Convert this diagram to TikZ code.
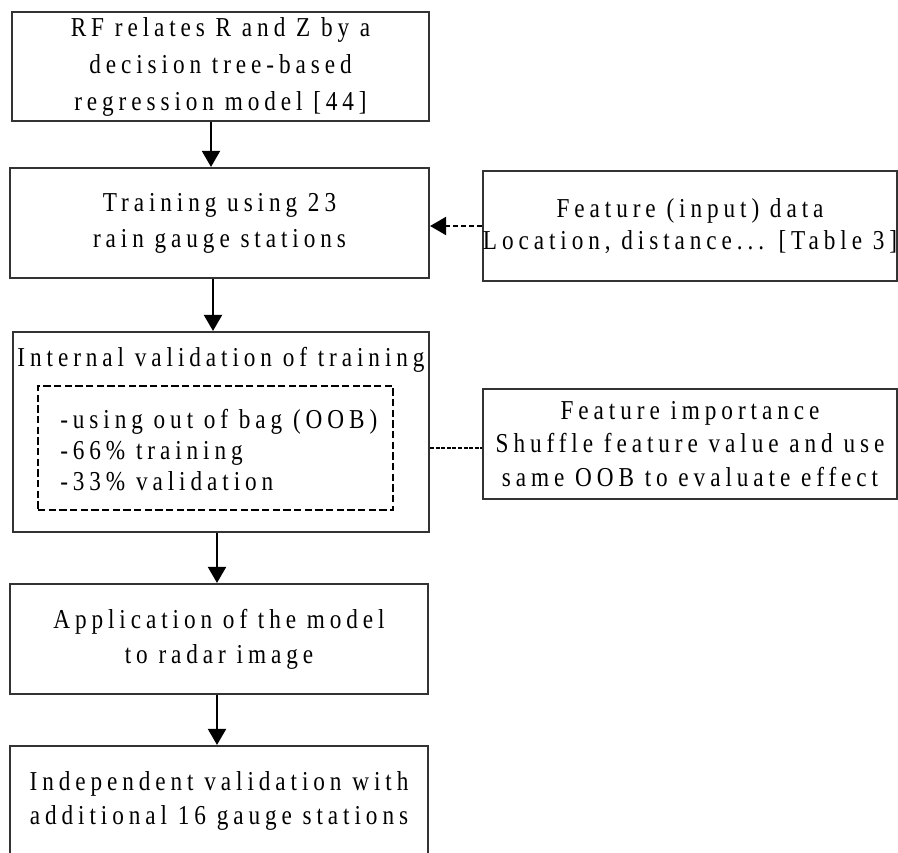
\documentclass[tikz,border=0pt]{standalone}
\usepackage{fontspec}
\setmainfont{Liberation Serif}[FakeStretch=0.85, LetterSpace=18]
\usetikzlibrary{arrows.meta}
\newdimen\upx
\upx=0.75pt
\definecolor{boxc}{HTML}{333333}
\begin{document}
\begin{tikzpicture}[x=0.75pt,y=-0.75pt,
  box/.style={draw=boxc, line width=1.6pt, inner sep=0pt, align=center,
    font=\fontsize{20.5}{27}\selectfont},
  arr/.style={line width=1.5pt, -{Triangle[length=12pt,width=13.5pt]}},
  darr/.style={line width=1.6pt, dash pattern=on 4pt off 2pt, -{Triangle[length=12pt,width=13.5pt]}},
  dotline/.style={line width=2pt, dash pattern=on 3pt off 1.2pt},
  inbox/.style={draw=black, line width=1.2pt, dash pattern=on 5.5pt off 2.5pt, inner sep=0pt},
  plain/.style={inner sep=0pt, font=\fontsize{20.5}{23}\selectfont}]
\useasboundingbox (0,0) rectangle (898,852);

\node[box, minimum width=417\upx, minimum height=109\upx, font=\fontsize{20.5}{27.75}\selectfont] (b1) at (220.5,66.5)
  {RF relates R and Z by a\\decision tree-based\\regression model [44]};
\node[box, minimum width=419\upx, minimum height=110\upx] (b2) at (219.5,223)
  {Training using 23\\rain gauge stations};
\node[box, minimum width=414\upx, minimum height=110\upx, font=\fontsize{20.5}{23.5}\selectfont] (f1) at (690,226)
  {Feature (input) data\\Location, distance... [Table 3]};
\node[box, minimum width=416\upx, minimum height=200\upx] (b3) at (221,432) {};
\node[plain] (t3) at (221,360) {Internal validation of training};
\node[inbox, minimum width=355\upx, minimum height=124\upx] (ib) at (215.5,448) {};
\node[plain, anchor=west, align=left, font=\fontsize{20.5}{23.5}\selectfont] (items) at (60,450)
  {-using out of bag (OOB)\\-66\% training\\-33\% validation};
\node[box, minimum width=414\upx, minimum height=110\upx, font=\fontsize{20.5}{25}\selectfont] (f2) at (690,444)
  {Feature importance\\Shuffle feature value and use\\same OOB to evaluate effect};
\node[box, minimum width=418\upx, minimum height=110\upx, font=\fontsize{20.5}{26.5}\selectfont] (b4) at (219,639)
  {Application of the model\\to radar image};
\node[box, minimum width=418\upx, minimum height=110\upx, font=\fontsize{20.5}{25}\selectfont] (b5) at (219,801)
  {Independent validation with\\additional 16 gauge stations};

\coordinate (a1) at (211,0);
\coordinate (a2) at (213,0);
\coordinate (a3) at (217,0);
\coordinate (dl) at (0,448);
\draw[arr] (b1.south -| a1) -- (b2.north -| a1);
\draw[arr] (b2.south -| a2) -- (b3.north -| a2);
\draw[arr] (b3.south -| a3) -- (b4.north -| a3);
\draw[arr] (b4.south -| a3) -- (b5.north -| a3);
\draw[darr] (f1.west) -- (b2.east |- f1.west);
\draw[dotline] (b3.east |- dl) -- (f2.west |- dl);
\end{tikzpicture}
\end{document}
